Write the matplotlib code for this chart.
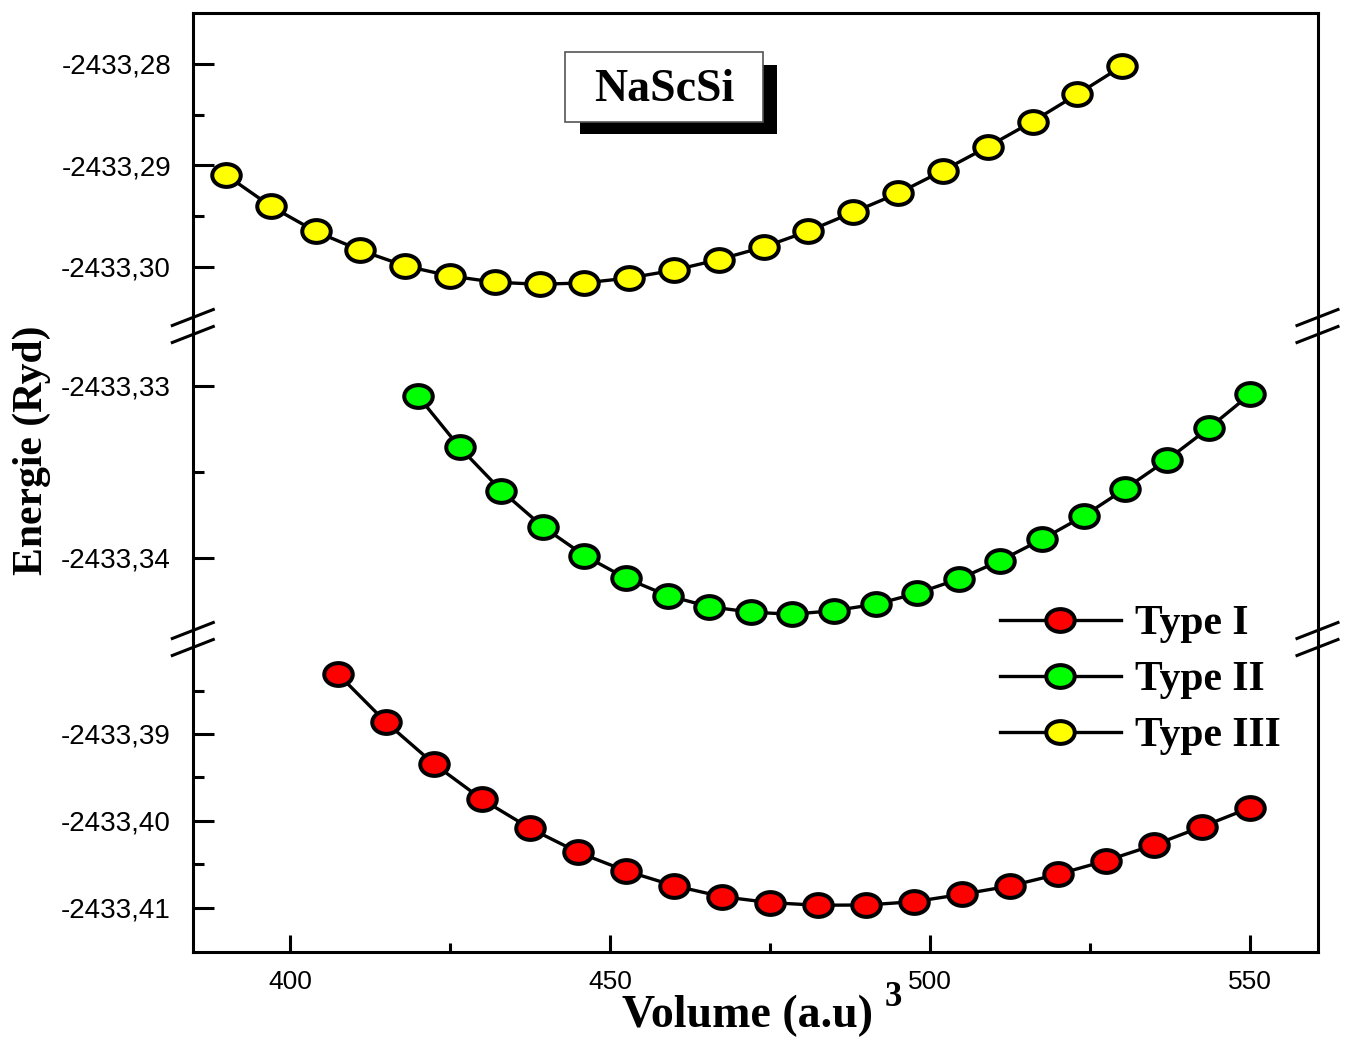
import numpy as np
import matplotlib
matplotlib.use('Agg')
import matplotlib.pyplot as plt
from matplotlib.path import Path
from matplotlib.transforms import Affine2D
from matplotlib.lines import Line2D
from matplotlib.patches import Rectangle
from matplotlib.ticker import FixedLocator, FuncFormatter

# ---------------- data ----------------
vol_I = [407.5, 415, 422.5, 430, 437.5, 445, 452.5, 460, 467.5, 475,
         482.5, 490, 497.5, 505, 512.5, 520, 527.5, 535, 542.5, 550]
E_I = [-2433.38309, -2433.38865, -2433.39345, -2433.39752, -2433.40086,
       -2433.40362, -2433.40577, -2433.40747, -2433.40873, -2433.40942,
       -2433.40972, -2433.40969, -2433.40931, -2433.40846, -2433.40750,
       -2433.40615, -2433.40459, -2433.40278, -2433.40067, -2433.39849]

vol_II = [420, 426.5, 433, 439.5, 446, 452.5, 459, 465.5, 472, 478.5, 485,
          491.5, 498, 504.5, 511, 517.5, 524, 530.5, 537, 543.5, 550]
E_II = [-2433.33060, -2433.33358, -2433.33610, -2433.33820, -2433.33988,
        -2433.34120, -2433.34221, -2433.34285, -2433.34317, -2433.34329,
        -2433.34308, -2433.34271, -2433.34207, -2433.34124, -2433.34017,
        -2433.33893, -2433.33758, -2433.33599, -2433.33432, -2433.33248,
        -2433.33050]

vol_III = [390, 397, 404, 411, 418, 425, 432, 439, 446, 453, 460,
           467, 474, 481, 488, 495, 502, 509, 516, 523, 530]
E_III = [-2433.29094, -2433.29402, -2433.29650, -2433.29836, -2433.29990,
         -2433.30088, -2433.30150, -2433.30170, -2433.30157, -2433.30108,
         -2433.30032, -2433.29927, -2433.29804, -2433.29647, -2433.29461,
         -2433.29275, -2433.29052, -2433.28817, -2433.28569, -2433.28300,
         -2433.28023]

labels = ['Type I', 'Type II', 'Type III']
colors = ['#ff0000', '#00ff00', '#ffff00']

x_major = [400, 450, 500, 550]
x_minor = [425, 475, 525]
y_top_major = [-2433.28, -2433.29, -2433.30]
y_top_minor = [-2433.285, -2433.295]
y_mid_major = [-2433.33, -2433.34]
y_mid_minor = [-2433.335]
y_bot_major = [-2433.39, -2433.40, -2433.41]
y_bot_minor = [-2433.385, -2433.395, -2433.405]

# ---------------- figure ----------------
W, H = 1351, 1038
fig = plt.figure(figsize=(W / 100, H / 100), dpi=100)
fig.patch.set_facecolor('white')

def fx(px):
    return px / W

def fy(py):
    return 1 - py / H

left, right = 193.3, 1318
top_px, b1_px, b2_px, bot_px = 13.3, 326, 639, 951.7

ax_top = fig.add_axes([fx(left), fy(b1_px), fx(right) - fx(left), fy(top_px) - fy(b1_px)])
ax_mid = fig.add_axes([fx(left), fy(b2_px), fx(right) - fx(left), fy(b1_px) - fy(b2_px)], sharex=ax_top)
ax_bot = fig.add_axes([fx(left), fy(bot_px), fx(right) - fx(left), fy(b2_px) - fy(bot_px)], sharex=ax_top)

ax_top.set_ylim(-2433.30581, -2433.27503)
ax_mid.set_ylim(-2433.34473, -2433.32653)
ax_bot.set_ylim(-2433.41507, -2433.37906)
ax_bot.set_xlim(384.9, 560.6)

circ = Path.unit_circle()
ell = Path(Affine2D().scale(1.0, 0.8).transform(circ.vertices), circ.codes)

series = [(vol_I, E_I, ax_bot), (vol_II, E_II, ax_mid), (vol_III, E_III, ax_top)]
handles = []
for (xv, yv, ax), c in zip(series, colors):
    ln, = ax.plot(xv, yv, '-', color='black', lw=2.4, marker=ell, ms=20.5,
                  mfc=c, mec='black', mew=2.9, zorder=3)
    handles.append(ln)

fmt = FuncFormatter(lambda v, p: f'{v:.2f}'.replace('.', ','))
lw_spine = 2.2
for ax, maj, mnr in [(ax_top, y_top_major, y_top_minor),
                     (ax_mid, y_mid_major, y_mid_minor),
                     (ax_bot, y_bot_major, y_bot_minor)]:
    ax.yaxis.set_major_locator(FixedLocator(maj))
    ax.yaxis.set_minor_locator(FixedLocator(mnr))
    ax.yaxis.set_major_formatter(fmt)
    ax.tick_params(axis='y', which='major', direction='in', length=15, width=2.2,
                   labelsize=20, pad=16, right=False, left=True)
    ax.tick_params(axis='y', which='minor', direction='in', length=8, width=2.2,
                   right=False, left=True)
    for sp in ax.spines.values():
        sp.set_linewidth(lw_spine)
    for lab in ax.get_yticklabels():
        lab.set_fontfamily('Liberation Sans')

ax_top.spines['bottom'].set_visible(False)
ax_mid.spines['top'].set_visible(False)
ax_mid.spines['bottom'].set_visible(False)
ax_bot.spines['top'].set_visible(False)
for ax in (ax_top, ax_mid):
    ax.tick_params(axis='x', which='both', bottom=False, top=False, labelbottom=False)

ax_bot.xaxis.set_major_locator(FixedLocator(x_major))
ax_bot.xaxis.set_minor_locator(FixedLocator(x_minor))
ax_bot.tick_params(axis='x', which='major', direction='in', length=12, width=2.2,
                   labelsize=19, pad=13, top=False)
ax_bot.tick_params(axis='x', which='minor', direction='in', length=6.5, width=2.2, top=False)
for lab in ax_bot.get_xticklabels():
    lab.set_fontfamily('Liberation Sans')

# break marks
for bpx in (b1_px, b2_px):
    for xs in (left, right):
        for off in (-8.5, 8.5):
            yc = bpx + off
            fig.add_artist(Line2D([fx(xs - 21), fx(xs + 20)], [fy(yc + 8), fy(yc - 8)],
                                  color='black', lw=2.2, transform=fig.transFigure))

# axis labels
serif_bold = dict(family='Liberation Serif', weight='bold')
fig.text(fx(32), fy(450), 'Energie (Ryd)', rotation=90, ha='center', va='center',
         fontsize=30, **serif_bold)
fig.text(fx(748), fy(1016), 'Volume (a.u)', ha='center', va='center', fontsize=33, **serif_bold)
fig.text(fx(893), fy(997), '3', ha='center', va='center', fontsize=25, **serif_bold)

# title box with shadow
fig.add_artist(Rectangle((fx(580), fy(134)), fx(777) - fx(580), fy(65) - fy(134),
                         transform=fig.transFigure, facecolor='black', edgecolor='none', zorder=5))
fig.add_artist(Rectangle((fx(565), fy(122)), fx(763) - fx(565), fy(52) - fy(122),
                         transform=fig.transFigure, facecolor='white', edgecolor='#555555',
                         lw=1.2, zorder=6))
fig.text(fx(664), fy(90), 'NaScSi', ha='center', va='center', fontsize=33, zorder=7, **serif_bold)

# legend
leg = fig.legend(handles, labels, loc='upper left', bbox_to_anchor=(fx(1000), fy(605)),
                 frameon=False, handlelength=2.9, handletextpad=0.35, labelspacing=0.43,
                 borderpad=0, borderaxespad=0,
                 prop=dict(family='Liberation Serif', weight='bold', size=30))

fig.savefig('out.png', dpi=100, facecolor='white')
